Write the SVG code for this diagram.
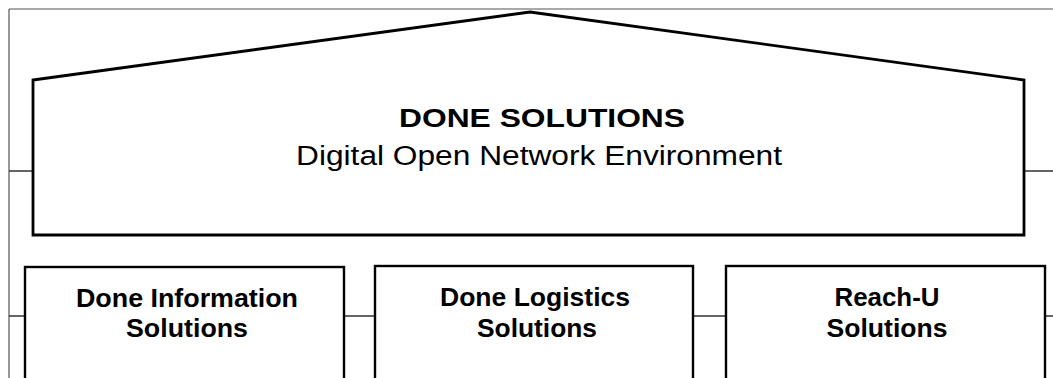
<svg xmlns="http://www.w3.org/2000/svg" width="1053" height="378" viewBox="0 0 1053 378">
<style>
.shape{fill:#fff;stroke:#000;stroke-width:2.8}
.box{fill:#fff;stroke:#000;stroke-width:2.4}
.frame{fill:none;stroke:#555;stroke-width:1.2}
.conn{fill:none;stroke:#333;stroke-width:1.5}
.t{font-family:"Liberation Sans",Arial,sans-serif;fill:#000;text-anchor:middle}
.b{font-weight:bold;font-size:25px}
</style>
<rect width="1053" height="378" fill="#fff"/>
<g id="frame">
<path class="frame" d="M9,9 H1053 M9,9 V378"/>
</g>
<g id="connectors">
<path class="conn" d="M9,171 H33 M1024,171 H1053"/>
<path class="conn" d="M9,316 H25 M344,316 H375 M693,316 H726 M1045,316 H1053"/>
</g>
<g id="done-solutions">
<path class="shape" d="M33,80 L530,12 L1024,80 L1024,235 L33,235 Z"/>
<text class="t" x="542" y="127" font-size="26" font-weight="bold" textLength="286" lengthAdjust="spacingAndGlyphs">DONE SOLUTIONS</text>
<text class="t" x="539" y="165" font-size="27" textLength="486" lengthAdjust="spacingAndGlyphs">Digital Open Network Environment</text>
</g>
<g id="done-information">
<rect class="box" x="25" y="267" width="319" height="130"/>
<text class="t b" x="187" y="307" textLength="222" lengthAdjust="spacingAndGlyphs">Done Information</text>
<text class="t b" x="187" y="337" textLength="122" lengthAdjust="spacingAndGlyphs">Solutions</text>
</g>
<g id="done-logistics">
<rect class="box" x="375" y="266" width="318" height="130"/>
<text class="t b" x="535" y="306" textLength="190" lengthAdjust="spacingAndGlyphs">Done Logistics</text>
<text class="t b" x="537" y="337" textLength="120" lengthAdjust="spacingAndGlyphs">Solutions</text>
</g>
<g id="reach-u">
<rect class="box" x="726" y="266" width="319" height="130"/>
<text class="t b" x="887" y="306" textLength="105" lengthAdjust="spacingAndGlyphs">Reach-U</text>
<text class="t b" x="887" y="337" textLength="121" lengthAdjust="spacingAndGlyphs">Solutions</text>
</g>
</svg>
